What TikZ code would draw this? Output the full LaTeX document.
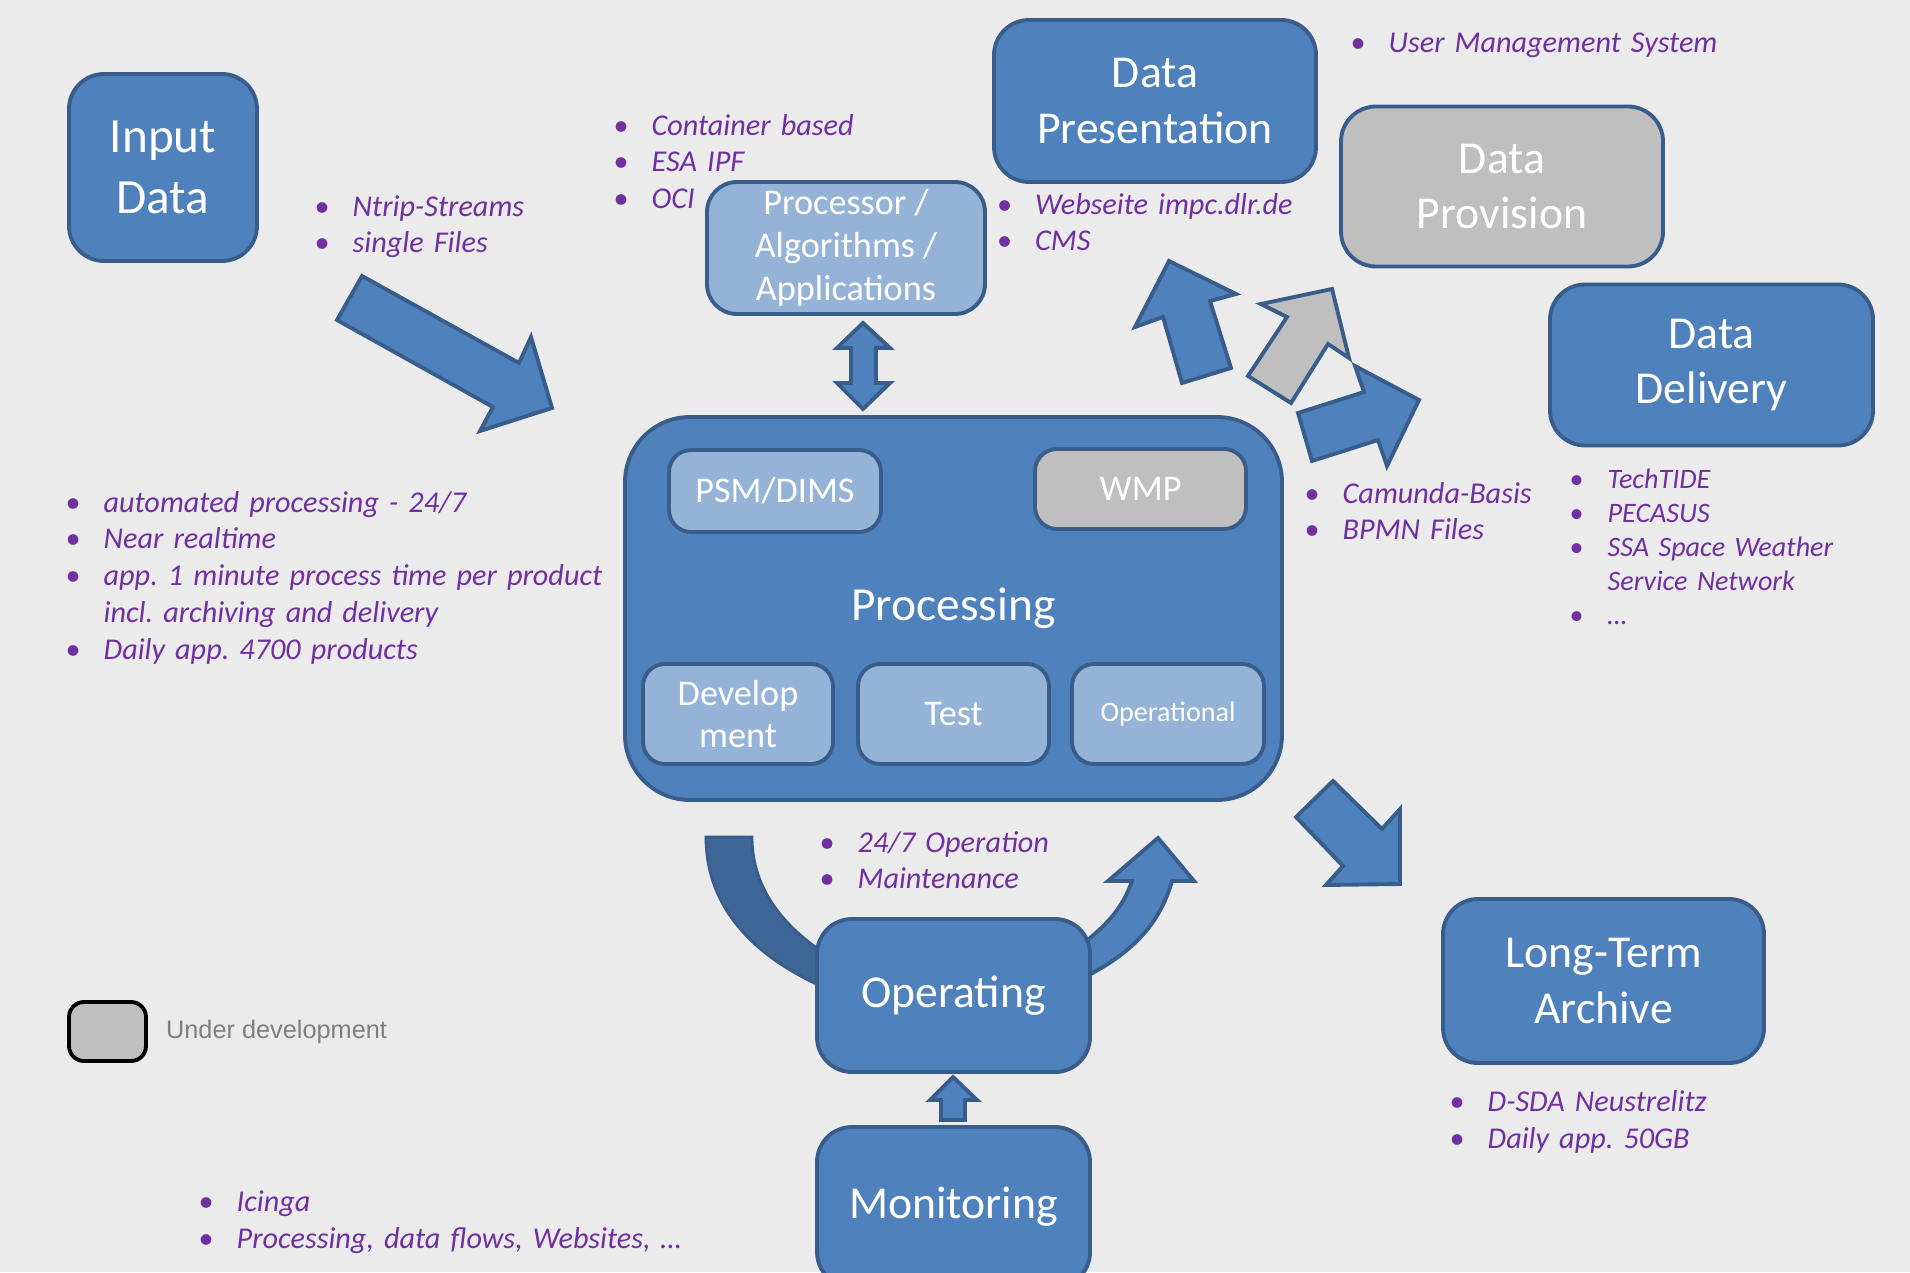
\documentclass[tikz,border=0pt]{standalone}
\usepackage{fontspec}
\setmainfont{Carlito}
\newfontfamily\legendfont{Liberation Sans}
\usetikzlibrary{positioning}
\frenchspacing
\definecolor{dlrBack}{RGB}{235,235,235}
\definecolor{dlrBlue}{RGB}{79,129,189}
\definecolor{dlrEdge}{RGB}{56,93,138}
\definecolor{dlrLight}{RGB}{149,179,215}
\definecolor{dlrGrey}{RGB}{191,191,191}
\definecolor{dlrBand}{RGB}{62,103,152}
\definecolor{dlrNote}{RGB}{112,48,160}
\definecolor{dlrLegend}{RGB}{127,127,127}

% one bullet line, and a wrapped line under it
\newcommand\bul[1]{\noindent\makebox[10.8pt][l]{\upshape\textbullet}#1\par}
\newcommand\bulcont[1]{\noindent\hspace*{10.8pt}#1\par}

\begin{document}
\begin{tikzpicture}[x=0.1mm, y=-0.1mm,
    box/.style={draw=dlrEdge, line width=1.1pt, fill=dlrBlue, rounded corners=3.5mm,
      text=white, align=center, inner sep=0pt,
      font=\fontsize{13}{15.9}\selectfont},
    sub/.style={box, fill=dlrLight, rounded corners=2.2mm,
      font=\fontsize{10.3}{12.2}\selectfont},
    notes/.style={text=dlrNote, font=\itshape\fontsize{8.6}{10.5}\selectfont,
      text width=75mm, align=left, inner sep=0pt, anchor=base west},
    blockarrow/.style={draw=dlrEdge, line width=1.1pt, fill=dlrBlue, line join=miter}]

  \useasboundingbox (0,0) rectangle (1910,1272);
  \fill[dlrBack] (0,0) rectangle (1910,1272);

  % block arrows
  \draw[blockarrow] (362,276) -- (519,363) -- (531,337) -- (552,408) -- (480,431)
    -- (493,407) -- (337,320) -- cycle;
  \draw[blockarrow] (863,323) -- (890,348) -- (876,348) -- (876,383) -- (890,383)
    -- (863,409) -- (837,383) -- (851,383) -- (851,348) -- (837,348) -- cycle;
  \draw[blockarrow] (1169,261) -- (1236,294) -- (1210,301) -- (1231,368) -- (1182,383)
    -- (1163,317) -- (1135,327) -- cycle;
  \draw[blockarrow, fill=dlrGrey] (1332,289) -- (1349,358) -- (1328,344) -- (1291,403)
    -- (1248,376) -- (1287,317) -- (1261,304) -- cycle;
  \draw[blockarrow] (1419,400) -- (1387,466) -- (1378,440) -- (1312,461) -- (1298,413)
    -- (1364,392) -- (1355,366) -- cycle;
  \draw[blockarrow] (1333,781) -- (1382,829) -- (1400,809) -- (1400,884) -- (1326,885)
    -- (1343,866) -- (1296,817) -- cycle;
  \draw[blockarrow] (953,1077) -- (977,1100) -- (965,1100) -- (965,1120) -- (941,1120)
    -- (941,1100) -- (930,1100) -- cycle;

  % curved arrows around Operating
  \draw[draw=dlrEdge, line width=0.8pt, fill=dlrBand] (706,837) -- (752,837)
    .. controls (752,890) and (785,930) .. (835,960) -- (835,992)
    .. controls (760,962) and (706,912) .. cycle;
  \draw[blockarrow] (1158,838) -- (1194,881) -- (1172,881)
    .. controls (1158,930) and (1125,958) .. (1075,982) -- (1075,950)
    .. controls (1105,927) and (1122,910) .. (1132,881) -- (1108,881) -- cycle;

  % boxes
  \node[box, minimum width=18.8mm, minimum height=18.7mm,
        font=\fontsize{14}{17.4}\selectfont] (input) at (163,167.5) {Input\\Data};
  \node[box, minimum width=32.2mm, minimum height=16.2mm] (present) at (1155,101)
    {Data\\Presentation};
  \node[box, fill=dlrGrey, minimum width=32.2mm, minimum height=16mm] (provision)
    at (1502,186.5) {Data\\Provision};
  \node[box, minimum width=32.3mm, minimum height=16.1mm] (delivery) at (1711.5,365)
    {Data\\Delivery};
  \node[sub, rounded corners=3mm, minimum width=27.8mm, minimum height=13.2mm]
    (procalg) at (846,248) {Processor /\\Algorithms /\\Applications};
  \node[box, rounded corners=6.5mm, minimum width=65.7mm, minimum height=38.3mm,
        font=\fontsize{13.5}{16}\selectfont] (processing) at (953.5,608.5) {Processing};
  \node[sub, minimum width=21.2mm, minimum height=8.2mm] (psm) at (775,491) {PSM/DIMS};
  \node[sub, fill=dlrGrey, minimum width=21.1mm, minimum height=8mm] (wmp)
    at (1140.5,489) {WMP};
  \node[sub, minimum width=19mm, minimum height=10mm] (devel) at (738,714)
    {Develop\\ment};
  \node[sub, minimum width=19.1mm, minimum height=10mm] (test) at (953.5,714) {Test};
  \node[sub, minimum width=19.2mm, minimum height=10mm,
        font=\fontsize{8}{9.6}\selectfont] (operational) at (1168,714) {Operational};
  \node[box, minimum width=27.3mm, minimum height=15.3mm] (operating) at (953.5,995.5)
    {Operating};
  \node[box, minimum width=27.3mm, minimum height=16mm] (monitoring) at (953.5,1207)
    {Monitoring};
  \node[box, minimum width=32.1mm, minimum height=16.4mm] (archive) at (1603.5,981)
    {Long-Term\\Archive};

  % legend
  \node[draw=black, line width=1.1pt, fill=dlrGrey, rounded corners=1.5mm,
        minimum width=7.7mm, minimum height=5.9mm] (legend) at (107.5,1031.5) {};
  \node[right=1.75mm of legend, inner sep=0pt, text=dlrLegend,
        font=\legendfont\fontsize{7.2}{8.6}\selectfont] (legendtext) {Under development};

  % notes
  \node[notes] (ntrip) at (314,216) {\bul{Ntrip-Streams}\bul{single Files}};
  \node[notes] (container) at (613,135)
    {\bul{Container based}\bul{ESA IPF}\bul{OCI}};
  \node[notes] (website) at (996.5,214) {\bul{Webseite impc.dlr.de}\bul{CMS}};
  \node[notes] (users) at (1350,53) {\bul{User Management System}};
  \node[notes] (camunda) at (1304,503) {\bul{Camunda-Basis}\bul{BPMN Files}};
  \node[notes, font=\itshape\fontsize{8}{9.7}\selectfont] (techtide) at (1569,488)
    {\bul{TechTIDE}\bul{PECASUS}\bul{SSA Space Weather}\bulcont{Service Network}\bul{…}};
  \node[notes] (automated) at (65,512)
    {\bul{automated processing - 24/7}\bul{Near realtime}%
     \bul{app. 1 minute process time per product}\bulcont{incl. archiving and delivery}%
     \bul{Daily app. 4700 products}};
  \node[notes] (operation) at (819,852) {\bul{24/7 Operation}\bul{Maintenance}};
  \node[notes] (dsda) at (1449,1111.6) {\bul{D-SDA Neustrelitz}\bul{Daily app. 50GB}};
  \node[notes] (icinga) at (198,1211.6)
    {\bul{Icinga}\bul{Processing, data flows, Websites, …}};
\end{tikzpicture}
\end{document}
